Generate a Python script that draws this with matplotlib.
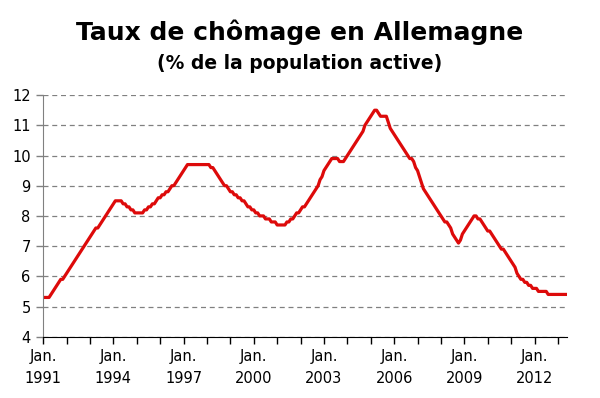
import numpy as np
import matplotlib
matplotlib.use("Agg")
from matplotlib import pyplot as plt

# Taux de chômage mensuel, janvier 1991 -> mai 2013
y1991 = [5.3, 5.3, 5.3, 5.3, 5.4, 5.5, 5.6, 5.7, 5.8, 5.9, 5.9, 6.0]
y1992 = [6.1, 6.2, 6.3, 6.4, 6.5, 6.6, 6.7, 6.8, 6.9, 7.0, 7.1, 7.2]
y1993 = [7.3, 7.4, 7.5, 7.6, 7.6, 7.7, 7.8, 7.9, 8.0, 8.1, 8.2, 8.3]
y1994 = [8.4, 8.5, 8.5, 8.5, 8.5, 8.4, 8.4, 8.3, 8.3, 8.2, 8.2, 8.1]
y1995 = [8.1, 8.1, 8.1, 8.1, 8.2, 8.2, 8.3, 8.3, 8.4, 8.4, 8.5, 8.6]
y1996 = [8.6, 8.7, 8.7, 8.8, 8.8, 8.9, 9.0, 9.0, 9.1, 9.2, 9.3, 9.4]
y1997 = [9.5, 9.6, 9.7, 9.7, 9.7, 9.7, 9.7, 9.7, 9.7, 9.7, 9.7, 9.7]
y1998 = [9.7, 9.7, 9.6, 9.6, 9.5, 9.4, 9.3, 9.2, 9.1, 9.0, 9.0, 8.9]
y1999 = [8.8, 8.8, 8.7, 8.7, 8.6, 8.6, 8.5, 8.5, 8.4, 8.3, 8.3, 8.2]
y2000 = [8.2, 8.1, 8.1, 8.0, 8.0, 8.0, 7.9, 7.9, 7.9, 7.8, 7.8, 7.8]
y2001 = [7.7, 7.7, 7.7, 7.7, 7.7, 7.8, 7.8, 7.9, 7.9, 8.0, 8.1, 8.1]
y2002 = [8.2, 8.3, 8.3, 8.4, 8.5, 8.6, 8.7, 8.8, 8.9, 9.0, 9.2, 9.3]
y2003 = [9.5, 9.6, 9.7, 9.8, 9.9, 9.9, 9.9, 9.9, 9.8, 9.8, 9.8, 9.9]
y2004 = [10.0, 10.1, 10.2, 10.3, 10.4, 10.5, 10.6, 10.7, 10.8, 11.0, 11.1, 11.2]
y2005 = [11.3, 11.4, 11.5, 11.5, 11.4, 11.3, 11.3, 11.3, 11.3, 11.1, 10.9, 10.8]
y2006 = [10.7, 10.6, 10.5, 10.4, 10.3, 10.2, 10.1, 10.0, 9.9, 9.9, 9.8, 9.6]
y2007 = [9.5, 9.3, 9.1, 8.9, 8.8, 8.7, 8.6, 8.5, 8.4, 8.3, 8.2, 8.1]
y2008 = [8.0, 7.9, 7.8, 7.8, 7.7, 7.6, 7.4, 7.3, 7.2, 7.1, 7.2, 7.4]
y2009 = [7.5, 7.6, 7.7, 7.8, 7.9, 8.0, 8.0, 7.9, 7.9, 7.8, 7.7, 7.6]
y2010 = [7.5, 7.5, 7.4, 7.3, 7.2, 7.1, 7.0, 6.9, 6.9, 6.8, 6.7, 6.6]
y2011 = [6.5, 6.4, 6.3, 6.1, 6.0, 5.9, 5.9, 5.8, 5.8, 5.7, 5.7, 5.6]
y2012 = [5.6, 5.6, 5.5, 5.5, 5.5, 5.5, 5.5, 5.4, 5.4, 5.4, 5.4, 5.4]
y2013 = [5.4, 5.4, 5.4, 5.4, 5.4]

taux = (y1991 + y1992 + y1993 + y1994 + y1995 + y1996 + y1997 + y1998
        + y1999 + y2000 + y2001 + y2002 + y2003 + y2004 + y2005 + y2006
        + y2007 + y2008 + y2009 + y2010 + y2011 + y2012 + y2013)

first_year = 1991
label_years = [1991, 1994, 1997, 2000, 2003, 2006, 2009, 2012]
y_ticks = [4, 5, 6, 7, 8, 9, 10, 11, 12]

months = np.arange(len(taux))
year_ticks = np.arange(0, len(taux), 12)

fig = plt.figure(figsize=(6, 3.98), dpi=100)
ax = fig.add_axes([0.072, 0.154, 0.8725, 0.607])

ax.plot(months, taux, color="#dd0a0a", linewidth=2.3, solid_joinstyle="round")

ax.set_xlim(0, len(taux) - 0.5)
ax.set_ylim(4, 12)

# un trait par an, une étiquette tous les trois ans
ax.set_xticks(year_ticks)
ax.set_xticklabels([f"Jan.\n{first_year + i}" if (first_year + i) in label_years else ""
                    for i in range(len(year_ticks))],
                   fontsize=10.5, linespacing=1.55)
ax.set_yticks(y_ticks)
ax.set_yticklabels([str(v) for v in y_ticks], fontsize=10.5)

ax.tick_params(axis="x", direction="out", length=5, width=1, color="black", pad=4)
ax.tick_params(axis="y", direction="out", length=5, width=1, color="#808080", pad=4)

ax.grid(axis="y", color="#808080", linestyle=(0, (4, 3)), linewidth=0.9)
ax.set_axisbelow(True)

for side in ["top", "right"]:
    ax.spines[side].set_visible(False)
ax.spines["left"].set_color("#808080")
ax.spines["bottom"].set_color("black")
ax.spines["bottom"].set_zorder(3)

fig.text(0.5, 0.918, "Taux de chômage en Allemagne", ha="center", va="center",
         fontsize=18, fontweight="bold")
fig.text(0.5, 0.84, "(% de la population active)", ha="center", va="center",
         fontsize=13.5, fontweight="bold")

fig.savefig("out.png", dpi=100)
